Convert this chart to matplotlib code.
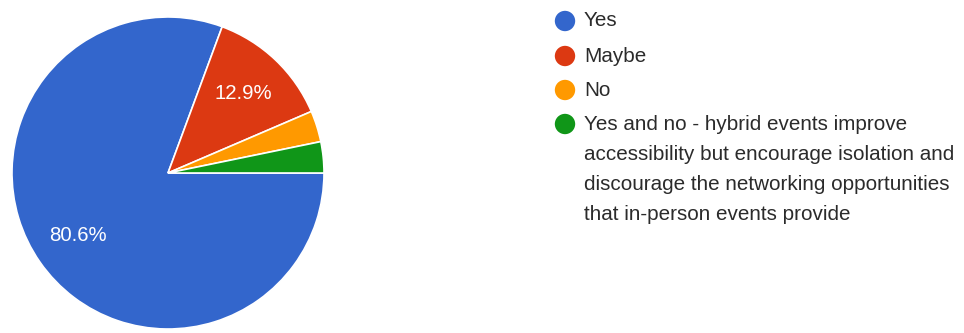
import matplotlib.pyplot as plt

plt.rcParams['font.family'] = ['Liberation Sans', 'DejaVu Sans']

labels = ['Yes', 'Maybe', 'No',
          'Yes and no - hybrid events improve\naccessibility but encourage isolation and\n'
          'discourage the networking opportunities\nthat in-person events provide']
counts = [25, 4, 1, 1]
colors = ['#3366cc', '#dc3912', '#ff9900', '#109618']

W, H = 964, 333
fig = plt.figure(figsize=(W / 100, H / 100), dpi=100)

# pie area: centre (168, 173) px, radius 156 px
ax = fig.add_axes([12 / W, (H - 329) / H, 312 / W, 312 / H])


def fmt(p):
    return '{:.1f}%'.format(p) if p > 5 else ''


wedges, texts, autotexts = ax.pie(counts, colors=colors, startangle=0, counterclock=False,
                                  autopct=fmt, pctdistance=0.70,
                                  wedgeprops=dict(edgecolor='white', linewidth=1.2),
                                  textprops=dict(color='white', fontsize=14.7))
ax.set_xlim(-1, 1)
ax.set_ylim(-1, 1)
ax.axis('off')

# legend drawn in pixel coordinates
lax = fig.add_axes([0, 0, 1, 1])
lax.set_xlim(0, W)
lax.set_ylim(H, 0)
lax.axis('off')

row_y = [21, 56, 90, 124]
line_gap = 30
for lab, col, y in zip(labels, colors, row_y):
    lax.scatter([565], [y], s=215, color=col, edgecolors='none')
    for i, line in enumerate(lab.split('\n')):
        lax.text(584, y + i * line_gap, line, fontsize=14.9, color='#2b2b2b',
                 va='center', ha='left')

fig.savefig('out.png', dpi=100, facecolor='white')
